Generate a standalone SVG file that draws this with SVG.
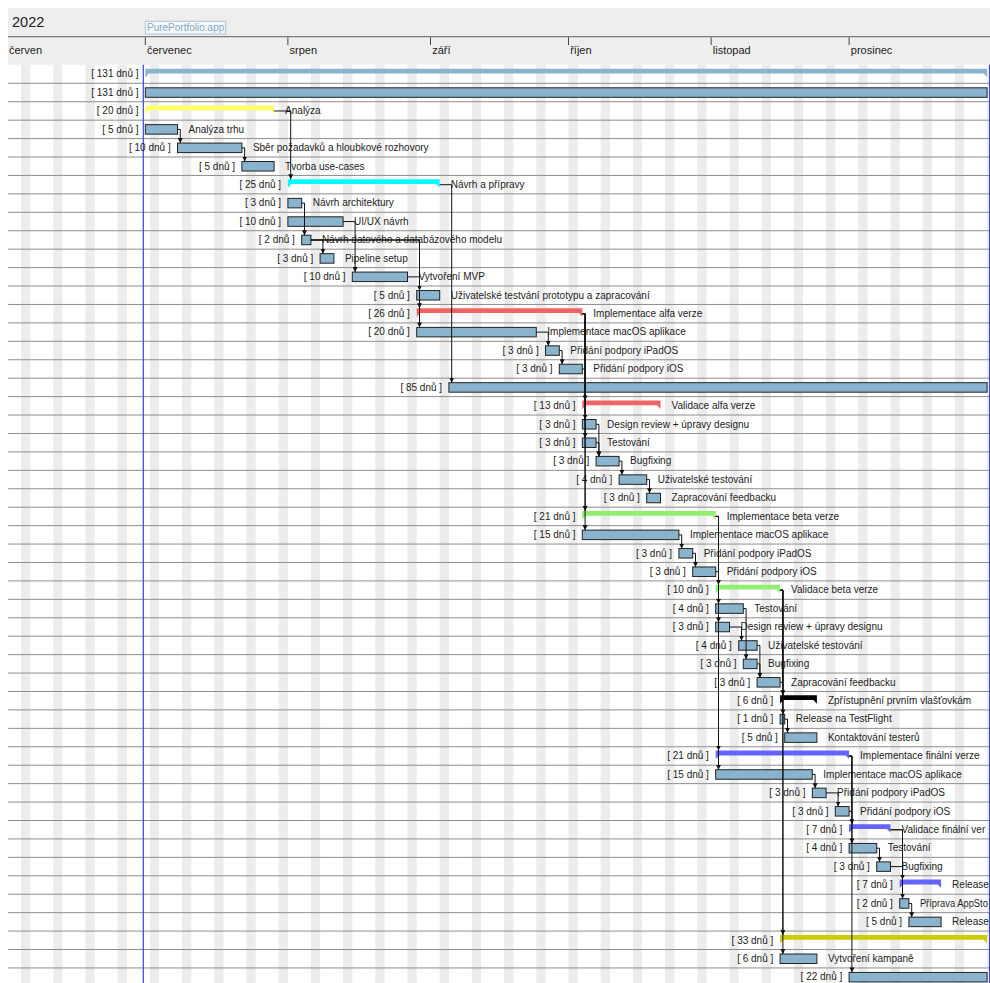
<svg xmlns="http://www.w3.org/2000/svg" width="990" height="983" viewBox="0 0 990 983">
<style>
.t{font-family:"Liberation Sans",Arial,sans-serif;font-size:10px;fill:#1c1c1c}
.d{text-anchor:end}
.mo{font-family:"Liberation Sans",Arial,sans-serif;font-size:11px;fill:#222}
.bar{fill:#8ab4cd;stroke:#222;stroke-width:1}
.c{fill:none;stroke:#111;stroke-width:1}
.a{marker-end:url(#ah)}
.grid{fill:none;stroke:#8e8e8e;stroke-width:1}
.lb{fill:#8ab4cd}.ye{fill:#ffff66}.cy{fill:#00ffff}.re{fill:#f06464}.gr{fill:#90ee70}.bl{fill:#6464ff}.bk{fill:#000}.ol{fill:#cccc00}
</style>
<defs>
<marker id="ah" viewBox="0 0 10 10" refX="10" refY="5" markerWidth="5" markerHeight="5" markerUnits="userSpaceOnUse" orient="auto"><path d="M0,0L10,5L0,10Z" fill="#111"/></marker>
</defs>
<rect width="990" height="983" fill="#fff"/>
<g id="header">
<rect x="8" y="8" width="982" height="56.7" fill="#eeeeee"/>
<line x1="8" y1="36.6" x2="990" y2="36.6" stroke="#7a7a7a" stroke-width="1.3"/>
<text x="12" y="27.3" style="font-family:'Liberation Sans',Arial,sans-serif;font-size:14.5px;fill:#222">2022</text>
<rect x="145.3" y="21.3" width="80.4" height="12.7" fill="#f7f9fb" stroke="#a6c6da" stroke-width="1"/>
<text class="t" x="147" y="31.3" style="fill:#7fa8c6">PurePortfolio.app</text>
<g stroke="#444" stroke-width="1">
<line x1="145.3" y1="37.3" x2="145.3" y2="45"/>
<line x1="287.9" y1="37.3" x2="287.9" y2="45"/>
<line x1="430.5" y1="37.3" x2="430.5" y2="45"/>
<line x1="568.5" y1="37.3" x2="568.5" y2="45"/>
<line x1="711.1" y1="37.3" x2="711.1" y2="45"/>
<line x1="849.1" y1="37.3" x2="849.1" y2="45"/>
</g>
<text class="mo" x="9" y="53.5">červen</text>
<text class="mo" x="147" y="53.5">červenec</text>
<text class="mo" x="289.6" y="53.5">srpen</text>
<text class="mo" x="432.2" y="53.5">září</text>
<text class="mo" x="570.2" y="53.5">říjen</text>
<text class="mo" x="712.8" y="53.5">listopad</text>
<text class="mo" x="850.8" y="53.5">prosinec</text>
</g>
<g id="grid">
<path fill="#ececec" d="M21.1,64.7h9.2V983h-9.2zM53.3,64.7h9.2V983h-9.2zM85.5,64.7h9.2V983h-9.2zM117.7,64.7h9.2V983h-9.2zM149.9,64.7h9.2V983h-9.2zM182.1,64.7h9.2V983h-9.2zM214.3,64.7h9.2V983h-9.2zM246.5,64.7h9.2V983h-9.2zM278.7,64.7h9.2V983h-9.2zM310.9,64.7h9.2V983h-9.2zM343.1,64.7h9.2V983h-9.2zM375.3,64.7h9.2V983h-9.2zM407.5,64.7h9.2V983h-9.2zM439.7,64.7h9.2V983h-9.2zM471.9,64.7h9.2V983h-9.2zM504.1,64.7h9.2V983h-9.2zM536.3,64.7h9.2V983h-9.2zM568.5,64.7h9.2V983h-9.2zM600.7,64.7h9.2V983h-9.2zM632.9,64.7h9.2V983h-9.2zM665.1,64.7h9.2V983h-9.2zM697.3,64.7h9.2V983h-9.2zM729.5,64.7h9.2V983h-9.2zM761.7,64.7h9.2V983h-9.2zM793.9,64.7h9.2V983h-9.2zM826.1,64.7h9.2V983h-9.2zM858.3,64.7h9.2V983h-9.2zM890.5,64.7h9.2V983h-9.2zM922.7,64.7h9.2V983h-9.2zM954.9,64.7h9.2V983h-9.2zM987.1,64.7h9.2V983h-9.2z"/>
<path class="grid" d="M8,83.3H990M8,101.73H990M8,120.16H990M8,138.59H990M8,157.02H990M8,175.45H990M8,193.88H990M8,212.31H990M8,230.74H990M8,249.17H990M8,267.6H990M8,286.03H990M8,304.46H990M8,322.89H990M8,341.32H990M8,359.75H990M8,378.18H990M8,396.61H990M8,415.04H990M8,433.47H990M8,451.9H990M8,470.33H990M8,488.76H990M8,507.19H990M8,525.62H990M8,544.05H990M8,562.48H990M8,580.91H990M8,599.34H990M8,617.77H990M8,636.2H990M8,654.63H990M8,673.06H990M8,691.49H990M8,709.92H990M8,728.35H990M8,746.78H990M8,765.21H990M8,783.64H990M8,802.07H990M8,820.5H990M8,838.93H990M8,857.36H990M8,875.79H990M8,894.22H990M8,912.65H990M8,931.08H990M8,949.51H990M8,967.94H990"/>
<line x1="143.3" y1="64.7" x2="143.3" y2="983" stroke="#3d3df5" stroke-width="1.2"/>
<line x1="989.5" y1="64.7" x2="989.5" y2="983" stroke="#3d3df5" stroke-width="1"/>
</g>
<g id="tasks">
<g id="t0" transform="translate(0,64.87)"><path class="lb" d="M145.3,3.8H987.1V12.3L983.6,8.6H148.8L145.3,12.3Z"/><text class="t d" x="138.5" y="12.5">[ 131 dnů ]</text></g>
<g id="t1" transform="translate(0,83.3)"><rect class="bar" x="145.3" y="4.5" width="841.8" height="9.5"/><text class="t d" x="138.5" y="12.5">[ 131 dnů ]</text></g>
<g id="t2" transform="translate(0,101.73)"><path class="ye" d="M145.3,3.8H274.1V12.3L270.6,8.6H148.8L145.3,12.3Z"/><text class="t d" x="138.5" y="12.5">[ 20 dnů ]</text><text class="t" x="285.1" y="12.5">Analýza</text></g>
<g id="t3" transform="translate(0,120.16)"><rect class="bar" x="145.3" y="4.5" width="32.2" height="9.5"/><text class="t d" x="138.5" y="12.5">[ 5 dnů ]</text><text class="t" x="188.5" y="12.5">Analýza trhu</text></g>
<g id="t4" transform="translate(0,138.59)"><rect class="bar" x="177.5" y="4.5" width="64.4" height="9.5"/><text class="t d" x="170.7" y="12.5">[ 10 dnů ]</text><text class="t" x="252.9" y="12.5">Sběr požadavků a hloubkové rozhovory</text></g>
<g id="t5" transform="translate(0,157.02)"><rect class="bar" x="241.9" y="4.5" width="32.2" height="9.5"/><text class="t d" x="235.1" y="12.5">[ 5 dnů ]</text><text class="t" x="285.1" y="12.5">Tvorba use-cases</text></g>
<g id="t6" transform="translate(0,175.45)"><path class="cy" d="M287.9,3.8H439.7V12.3L436.2,8.6H291.4L287.9,12.3Z"/><text class="t d" x="281.1" y="12.5">[ 25 dnů ]</text><text class="t" x="450.7" y="12.5">Návrh a přípravy</text></g>
<g id="t7" transform="translate(0,193.88)"><rect class="bar" x="287.9" y="4.5" width="13.8" height="9.5"/><text class="t d" x="281.1" y="12.5">[ 3 dnů ]</text><text class="t" x="312.7" y="12.5">Návrh architektury</text></g>
<g id="t8" transform="translate(0,212.31)"><rect class="bar" x="287.9" y="4.5" width="55.2" height="9.5"/><text class="t d" x="281.1" y="12.5">[ 10 dnů ]</text><text class="t" x="354.1" y="12.5">UI/UX návrh</text></g>
<g id="t9" transform="translate(0,230.74)"><rect class="bar" x="301.7" y="4.5" width="9.2" height="9.5"/><text class="t d" x="294.9" y="12.5">[ 2 dnů ]</text><text class="t" x="321.9" y="12.5">Návrh datového a databázového modelu</text></g>
<g id="t10" transform="translate(0,249.17)"><rect class="bar" x="320.1" y="4.5" width="13.8" height="9.5"/><text class="t d" x="313.3" y="12.5">[ 3 dnů ]</text><text class="t" x="344.9" y="12.5">Pipeline setup</text></g>
<g id="t11" transform="translate(0,267.6)"><rect class="bar" x="352.3" y="4.5" width="55.2" height="9.5"/><text class="t d" x="345.5" y="12.5">[ 10 dnů ]</text><text class="t" x="418.5" y="12.5">Vytvoření MVP</text></g>
<g id="t12" transform="translate(0,286.03)"><rect class="bar" x="416.7" y="4.5" width="23" height="9.5"/><text class="t d" x="409.9" y="12.5">[ 5 dnů ]</text><text class="t" x="450.7" y="12.5">Uživatelské testvání prototypu a zapracování</text></g>
<g id="t13" transform="translate(0,304.46)"><path class="re" d="M416.7,3.8H582.3V12.3L578.8,8.6H420.2L416.7,12.3Z"/><text class="t d" x="409.9" y="12.5">[ 26 dnů ]</text><text class="t" x="593.3" y="12.5">Implementace alfa verze</text></g>
<g id="t14" transform="translate(0,322.89)"><rect class="bar" x="416.7" y="4.5" width="119.6" height="9.5"/><text class="t d" x="409.9" y="12.5">[ 20 dnů ]</text><text class="t" x="547.3" y="12.5">Implementace macOS aplikace</text></g>
<g id="t15" transform="translate(0,341.32)"><rect class="bar" x="545.5" y="4.5" width="13.8" height="9.5"/><text class="t d" x="538.7" y="12.5">[ 3 dnů ]</text><text class="t" x="570.3" y="12.5">Přidání podpory iPadOS</text></g>
<g id="t16" transform="translate(0,359.75)"><rect class="bar" x="559.3" y="4.5" width="23" height="9.5"/><text class="t d" x="552.5" y="12.5">[ 3 dnů ]</text><text class="t" x="593.3" y="12.5">Přidání podpory iOS</text></g>
<g id="t17" transform="translate(0,378.18)"><rect class="bar" x="448.9" y="4.5" width="538.2" height="9.5"/><text class="t d" x="442.1" y="12.5">[ 85 dnů ]</text></g>
<g id="t18" transform="translate(0,396.61)"><path class="re" d="M582.3,3.8H660.5V12.3L657,8.6H585.8L582.3,12.3Z"/><text class="t d" x="575.5" y="12.5">[ 13 dnů ]</text><text class="t" x="671.5" y="12.5">Validace alfa verze</text></g>
<g id="t19" transform="translate(0,415.04)"><rect class="bar" x="582.3" y="4.5" width="13.8" height="9.5"/><text class="t d" x="575.5" y="12.5">[ 3 dnů ]</text><text class="t" x="607.1" y="12.5">Design review + úpravy designu</text></g>
<g id="t20" transform="translate(0,433.47)"><rect class="bar" x="582.3" y="4.5" width="13.8" height="9.5"/><text class="t d" x="575.5" y="12.5">[ 3 dnů ]</text><text class="t" x="607.1" y="12.5">Testování</text></g>
<g id="t21" transform="translate(0,451.9)"><rect class="bar" x="596.1" y="4.5" width="23" height="9.5"/><text class="t d" x="589.3" y="12.5">[ 3 dnů ]</text><text class="t" x="630.1" y="12.5">Bugfixing</text></g>
<g id="t22" transform="translate(0,470.33)"><rect class="bar" x="619.1" y="4.5" width="27.6" height="9.5"/><text class="t d" x="612.3" y="12.5">[ 4 dnů ]</text><text class="t" x="657.7" y="12.5">Uživatelské testování</text></g>
<g id="t23" transform="translate(0,488.76)"><rect class="bar" x="646.7" y="4.5" width="13.8" height="9.5"/><text class="t d" x="639.9" y="12.5">[ 3 dnů ]</text><text class="t" x="671.5" y="12.5">Zapracování feedbacku</text></g>
<g id="t24" transform="translate(0,507.19)"><path class="gr" d="M582.3,3.8H715.7V12.3L712.2,8.6H585.8L582.3,12.3Z"/><text class="t d" x="575.5" y="12.5">[ 21 dnů ]</text><text class="t" x="726.7" y="12.5">Implementace beta verze</text></g>
<g id="t25" transform="translate(0,525.62)"><rect class="bar" x="582.3" y="4.5" width="96.6" height="9.5"/><text class="t d" x="575.5" y="12.5">[ 15 dnů ]</text><text class="t" x="689.9" y="12.5">Implementace macOS aplikace</text></g>
<g id="t26" transform="translate(0,544.05)"><rect class="bar" x="678.9" y="4.5" width="13.8" height="9.5"/><text class="t d" x="672.1" y="12.5">[ 3 dnů ]</text><text class="t" x="703.7" y="12.5">Přidání podpory iPadOS</text></g>
<g id="t27" transform="translate(0,562.48)"><rect class="bar" x="692.7" y="4.5" width="23" height="9.5"/><text class="t d" x="685.9" y="12.5">[ 3 dnů ]</text><text class="t" x="726.7" y="12.5">Přidání podpory iOS</text></g>
<g id="t28" transform="translate(0,580.91)"><path class="gr" d="M715.7,3.8H780.1V12.3L776.6,8.6H719.2L715.7,12.3Z"/><text class="t d" x="708.9" y="12.5">[ 10 dnů ]</text><text class="t" x="791.1" y="12.5">Validace beta verze</text></g>
<g id="t29" transform="translate(0,599.34)"><rect class="bar" x="715.7" y="4.5" width="27.6" height="9.5"/><text class="t d" x="708.9" y="12.5">[ 4 dnů ]</text><text class="t" x="754.3" y="12.5">Testování</text></g>
<g id="t30" transform="translate(0,617.77)"><rect class="bar" x="715.7" y="4.5" width="13.8" height="9.5"/><text class="t d" x="708.9" y="12.5">[ 3 dnů ]</text><text class="t" x="740.5" y="12.5">Design review + úpravy designu</text></g>
<g id="t31" transform="translate(0,636.2)"><rect class="bar" x="738.7" y="4.5" width="18.4" height="9.5"/><text class="t d" x="731.9" y="12.5">[ 4 dnů ]</text><text class="t" x="768.1" y="12.5">Uživatelské testování</text></g>
<g id="t32" transform="translate(0,654.63)"><rect class="bar" x="743.3" y="4.5" width="13.8" height="9.5"/><text class="t d" x="736.5" y="12.5">[ 3 dnů ]</text><text class="t" x="768.1" y="12.5">Bugfixing</text></g>
<g id="t33" transform="translate(0,673.06)"><rect class="bar" x="757.1" y="4.5" width="23" height="9.5"/><text class="t d" x="750.3" y="12.5">[ 3 dnů ]</text><text class="t" x="791.1" y="12.5">Zapracování feedbacku</text></g>
<g id="t34" transform="translate(0,691.49)"><path class="bk" d="M780.1,3.8H816.9V12.3L813.4,8.6H783.6L780.1,12.3Z"/><text class="t d" x="773.3" y="12.5">[ 6 dnů ]</text><text class="t" x="827.9" y="12.5">Zpřístupnění prvním vlašťovkám</text></g>
<g id="t35" transform="translate(0,709.92)"><rect class="bar" x="780.1" y="4.5" width="4.6" height="9.5"/><text class="t d" x="773.3" y="12.5">[ 1 dnů ]</text><text class="t" x="795.7" y="12.5">Release na TestFlight</text></g>
<g id="t36" transform="translate(0,728.35)"><rect class="bar" x="784.7" y="4.5" width="32.2" height="9.5"/><text class="t d" x="777.9" y="12.5">[ 5 dnů ]</text><text class="t" x="827.9" y="12.5">Kontaktování testerů</text></g>
<g id="t37" transform="translate(0,746.78)"><path class="bl" d="M715.7,3.8H849.1V12.3L845.6,8.6H719.2L715.7,12.3Z"/><text class="t d" x="708.9" y="12.5">[ 21 dnů ]</text><text class="t" x="860.1" y="12.5">Implementace finální verze</text></g>
<g id="t38" transform="translate(0,765.21)"><rect class="bar" x="715.7" y="4.5" width="96.6" height="9.5"/><text class="t d" x="708.9" y="12.5">[ 15 dnů ]</text><text class="t" x="823.3" y="12.5">Implementace macOS aplikace</text></g>
<g id="t39" transform="translate(0,783.64)"><rect class="bar" x="812.3" y="4.5" width="13.8" height="9.5"/><text class="t d" x="805.5" y="12.5">[ 3 dnů ]</text><text class="t" x="837.1" y="12.5">Přidání podpory iPadOS</text></g>
<g id="t40" transform="translate(0,802.07)"><rect class="bar" x="835.3" y="4.5" width="13.8" height="9.5"/><text class="t d" x="828.5" y="12.5">[ 3 dnů ]</text><text class="t" x="860.1" y="12.5">Přidání podpory iOS</text></g>
<g id="t41" transform="translate(0,820.5)"><path class="bl" d="M849.1,3.8H890.5V12.3L887,8.6H852.6L849.1,12.3Z"/><text class="t d" x="842.3" y="12.5">[ 7 dnů ]</text><text class="t" x="901.5" y="12.5">Validace finální ver</text></g>
<g id="t42" transform="translate(0,838.93)"><rect class="bar" x="849.1" y="4.5" width="27.6" height="9.5"/><text class="t d" x="842.3" y="12.5">[ 4 dnů ]</text><text class="t" x="887.7" y="12.5">Testování</text></g>
<g id="t43" transform="translate(0,857.36)"><rect class="bar" x="876.7" y="4.5" width="13.8" height="9.5"/><text class="t d" x="869.9" y="12.5">[ 3 dnů ]</text><text class="t" x="901.5" y="12.5">Bugfixing</text></g>
<g id="t44" transform="translate(0,875.79)"><path class="bl" d="M899.7,3.8H941.1V12.3L937.6,8.6H903.2L899.7,12.3Z"/><text class="t d" x="892.9" y="12.5">[ 7 dnů ]</text><text class="t" x="952.1" y="12.5">Release</text></g>
<g id="t45" transform="translate(0,894.22)"><rect class="bar" x="899.7" y="4.5" width="9.2" height="9.5"/><text class="t d" x="892.9" y="12.5">[ 2 dnů ]</text><text class="t" x="919.9" y="12.5" textLength="68" lengthAdjust="spacingAndGlyphs">Příprava AppSto</text></g>
<g id="t46" transform="translate(0,912.65)"><rect class="bar" x="908.9" y="4.5" width="32.2" height="9.5"/><text class="t d" x="902.1" y="12.5">[ 5 dnů ]</text><text class="t" x="952.1" y="12.5">Release</text></g>
<g id="t47" transform="translate(0,931.08)"><path class="ol" d="M780.1,3.8H987.1V12.3L983.6,8.6H783.6L780.1,12.3Z"/><text class="t d" x="773.3" y="12.5">[ 33 dnů ]</text></g>
<g id="t48" transform="translate(0,949.51)"><rect class="bar" x="780.1" y="4.5" width="36.8" height="9.5"/><text class="t d" x="773.3" y="12.5">[ 6 dnů ]</text><text class="t" x="827.9" y="12.5">Vytvoření kampaně</text></g>
<g id="t49" transform="translate(0,967.94)"><rect class="bar" x="849.1" y="4.5" width="138" height="9.5"/><text class="t d" x="842.3" y="12.5">[ 22 dnů ]</text></g>
</g>
<g id="connectors">
<path class="c a" d="M274.1,110.98H290.7V179.25"/>
<path class="c a" d="M177.5,129.41H180.3V143.09"/>
<path class="c a" d="M241.9,147.84H244.7V161.52"/>
<path class="c a" d="M301.7,203.13H304.5V235.24"/>
<path class="c a" d="M343.1,221.56H355.1V272.1"/>
<path class="c a" d="M310.9,239.99H322.9V253.67"/>
<path class="c a" d="M310.9,239.99H419.5V308.26"/>
<path class="c a" d="M310.9,239.99H419.5V327.39"/>
<path class="c a" d="M407.5,276.85H419.5V290.53"/>
<path class="c a" d="M439.7,184.7H451.7V382.68"/>
<path class="c a" d="M582.3,313.71H585.1V400.41"/>
<path class="c a" d="M582.3,313.71H585.1V419.54"/>
<path class="c a" d="M582.3,313.71H585.1V437.97"/>
<path class="c a" d="M582.3,313.71H585.1V510.99"/>
<path class="c a" d="M582.3,313.71H585.1V530.12"/>
<path class="c a" d="M536.3,332.14H548.3V345.82"/>
<path class="c a" d="M559.3,350.57H562.1V364.25"/>
<path class="c" d="M582.3,369H585.1"/>
<path class="c a" d="M596.1,424.29H598.9V456.4"/>
<path class="c a" d="M596.1,442.72H598.9V456.4"/>
<path class="c a" d="M619.1,461.15H621.9V474.83"/>
<path class="c a" d="M646.7,479.58H649.5V493.26"/>
<path class="c a" d="M715.7,516.44H718.5V584.71"/>
<path class="c a" d="M715.7,516.44H718.5V603.84"/>
<path class="c a" d="M715.7,516.44H718.5V622.27"/>
<path class="c a" d="M715.7,516.44H718.5V750.58"/>
<path class="c a" d="M715.7,516.44H718.5V769.71"/>
<path class="c a" d="M678.9,534.87H681.7V548.55"/>
<path class="c a" d="M692.7,553.3H695.5V566.98"/>
<path class="c" d="M715.7,571.73H718.5"/>
<path class="c a" d="M780.1,590.16H782.9V695.29"/>
<path class="c a" d="M780.1,590.16H782.9V714.42"/>
<path class="c a" d="M780.1,590.16H782.9V934.88"/>
<path class="c a" d="M780.1,590.16H782.9V954.01"/>
<path class="c a" d="M743.3,608.59H746.1V659.13"/>
<path class="c a" d="M729.5,627.02H741.5V640.7"/>
<path class="c a" d="M757.1,645.45H759.9V677.56"/>
<path class="c a" d="M757.1,663.88H759.9V677.56"/>
<path class="c" d="M780.1,682.31H782.9"/>
<path class="c a" d="M784.7,719.17H787.5V732.85"/>
<path class="c a" d="M849.1,756.03H851.9V824.3"/>
<path class="c a" d="M849.1,756.03H851.9V843.43"/>
<path class="c a" d="M849.1,756.03H851.9V972.44"/>
<path class="c a" d="M812.3,774.46H815.1V788.14"/>
<path class="c a" d="M826.1,792.89H838.1V806.57"/>
<path class="c" d="M849.1,811.32H851.9"/>
<path class="c a" d="M890.5,829.75H902.5V879.59"/>
<path class="c a" d="M890.5,829.75H902.5V898.72"/>
<path class="c a" d="M876.7,848.18H879.5V861.86"/>
<path class="c" d="M890.5,866.61H902.5"/>
<path class="c a" d="M908.9,903.47H911.7V917.15"/>
</g>
</svg>
